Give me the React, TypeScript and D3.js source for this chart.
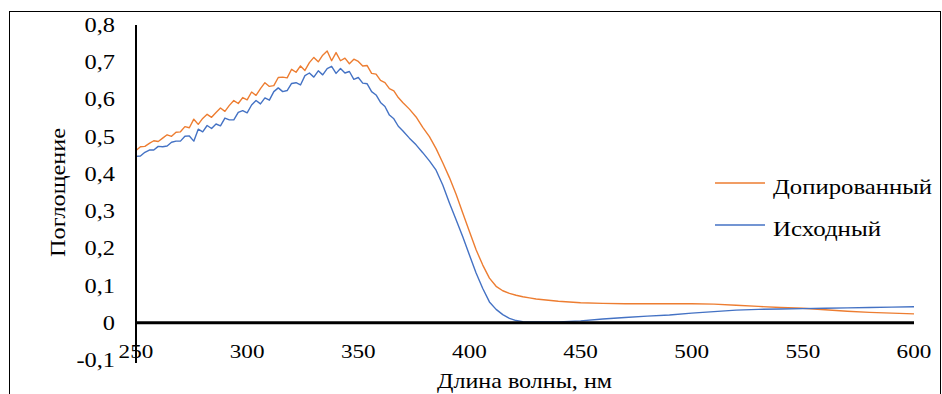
import { useEffect, useRef } from 'react';
import * as d3 from 'd3';

const wavelengths = [
  250, 252, 254, 256, 258, 260, 262, 264, 266, 268, 270, 272, 274, 276, 278, 280, 282, 284, 286, 288,
  290, 292, 294, 296, 298, 300, 302, 304, 306, 308, 310, 312, 314, 316, 318, 320, 322, 324, 326, 328,
  330, 332, 334, 336, 338, 340, 342, 344, 346, 348, 350, 352, 354, 356, 358, 360, 362, 364, 366, 368,
  370, 373, 376, 379, 382, 385, 388, 391, 394, 397, 400, 403, 406, 409, 412, 415, 418, 421, 424, 427,
  430, 440, 450, 460, 470, 480, 490, 500, 510, 520, 530, 540, 550, 560, 570, 580, 590, 600,
];

const doped = [
  0.463, 0.473, 0.474, 0.482, 0.489, 0.487, 0.496, 0.505, 0.501, 0.512, 0.513, 0.527, 0.524, 0.547, 0.533, 0.549, 0.560, 0.552, 0.565, 0.577,
  0.568, 0.584, 0.597, 0.589, 0.605, 0.599, 0.620, 0.611, 0.629, 0.645, 0.635, 0.637, 0.659, 0.660, 0.658, 0.681, 0.673, 0.690, 0.678, 0.699,
  0.713, 0.701, 0.719, 0.730, 0.704, 0.726, 0.704, 0.711, 0.696, 0.708, 0.702, 0.690, 0.691, 0.670, 0.668, 0.651, 0.645, 0.629, 0.623, 0.605,
  0.592, 0.574, 0.553, 0.525, 0.500, 0.468, 0.430, 0.390, 0.345, 0.295, 0.245, 0.196, 0.155, 0.120, 0.098, 0.086, 0.079, 0.074, 0.070, 0.067,
  0.064, 0.058, 0.054, 0.052, 0.051, 0.051, 0.051, 0.051, 0.050, 0.047, 0.044, 0.041, 0.039, 0.035, 0.031, 0.028, 0.026, 0.024,
];

const original = [
  0.447, 0.448, 0.458, 0.464, 0.464, 0.474, 0.473, 0.475, 0.485, 0.488, 0.488, 0.501, 0.502, 0.488, 0.520, 0.513, 0.530, 0.522, 0.534, 0.529,
  0.550, 0.545, 0.545, 0.565, 0.570, 0.564, 0.585, 0.597, 0.588, 0.604, 0.598, 0.621, 0.631, 0.621, 0.624, 0.643, 0.645, 0.639, 0.664, 0.671,
  0.660, 0.677, 0.666, 0.683, 0.689, 0.670, 0.683, 0.671, 0.675, 0.654, 0.659, 0.644, 0.642, 0.621, 0.612, 0.592, 0.581, 0.558, 0.548, 0.528,
  0.516, 0.496, 0.478, 0.457, 0.435, 0.410, 0.370, 0.322, 0.277, 0.231, 0.182, 0.134, 0.092, 0.056, 0.036, 0.022, 0.012, 0.006, 0.003, 0.002,
  0.002, 0.002, 0.005, 0.010, 0.014, 0.018, 0.021, 0.026, 0.030, 0.034, 0.036, 0.037, 0.038, 0.039, 0.040, 0.041, 0.042, 0.043,
];

const xTicks = [250, 300, 350, 400, 450, 500, 550, 600];
const yTicks = [-0.1, 0, 0.1, 0.2, 0.3, 0.4, 0.5, 0.6, 0.7, 0.8];

const seriesNames = ['Допированный', 'Исходный'];
const seriesColors = ['#ED7D31', '#4472C4'];
const legendWidths = [159, 108];

const FONT = '"Liberation Serif", "Times New Roman", serif';
const STRETCH = 1.22; // the picture's text is wider than Liberation Serif

const fmtY = (d: number) => (d === 0 ? '0' : d3.format('.1f')(d).replace('.', ',').replace('−', '-'));

const App = () => {
  const ref = useRef<SVGSVGElement>(null);

  useEffect(() => {
    const svg = d3.select(ref.current);
    svg.selectAll('*').remove();

    const x = d3.scaleLinear().domain([250, 600]).range([136, 914]);
    const y = d3.scaleLinear().domain([-0.1, 0.8]).range([360, 25]);

    // outer frame
    svg.append('rect')
      .attr('x', 9.5).attr('y', 11.5)
      .attr('width', 931).attr('height', 420)
      .attr('fill', 'none').attr('stroke', '#000').attr('stroke-width', 1);

    const line = d3.line<number>()
      .x((_, i) => x(wavelengths[i]))
      .y(d => y(d));

    [doped, original].forEach((values, i) => {
      svg.append('path')
        .datum(values)
        .attr('d', line)
        .attr('fill', 'none')
        .attr('stroke', seriesColors[i])
        .attr('stroke-width', 1.4)
        .attr('stroke-linejoin', 'round');
    });

    // axes
    svg.append('line')
      .attr('x1', x(250)).attr('x2', x(250))
      .attr('y1', y(0.8)).attr('y2', y(-0.1) + 3)
      .attr('stroke', '#000').attr('stroke-width', 2);

    svg.append('line')
      .attr('x1', x(250)).attr('x2', x(600))
      .attr('y1', y(0)).attr('y2', y(0))
      .attr('stroke', '#000').attr('stroke-width', 3);

    svg.append('g')
      .selectAll('text')
      .data(yTicks)
      .enter().append('text')
      .attr('transform', d => `translate(115,${y(d) + 7}) scale(${STRETCH},1)`)
      .attr('text-anchor', 'end')
      .attr('font-family', FONT)
      .attr('font-size', 20)
      .text(fmtY);

    svg.append('g')
      .selectAll('text')
      .data(xTicks)
      .enter().append('text')
      .attr('transform', d => `translate(${x(d)},358) scale(${STRETCH},1)`)
      .attr('text-anchor', 'middle')
      .attr('font-family', FONT)
      .attr('font-size', 19)
      .text(d => d);

    svg.append('text')
      .attr('x', 437).attr('y', 388)
      .attr('font-family', FONT)
      .attr('font-size', 21)
      .attr('textLength', 175)
      .attr('lengthAdjust', 'spacingAndGlyphs')
      .text('Длина волны, нм');

    svg.append('text')
      .attr('transform', 'translate(65,257) rotate(-90)')
      .attr('font-family', FONT)
      .attr('font-size', 22)
      .attr('textLength', 129)
      .attr('lengthAdjust', 'spacingAndGlyphs')
      .text('Поглощение');

    // legend
    const legend = svg.append('g');
    seriesNames.forEach((name, i) => {
      const ly = 183 + i * 42;
      legend.append('line')
        .attr('x1', 715).attr('x2', 765)
        .attr('y1', ly).attr('y2', ly)
        .attr('stroke', seriesColors[i]).attr('stroke-width', 1.5);
      legend.append('text')
        .attr('x', 773).attr('y', ly + 11)
        .attr('font-family', FONT)
        .attr('font-size', 21)
        .attr('textLength', legendWidths[i])
        .attr('lengthAdjust', 'spacingAndGlyphs')
        .text(name);
    });
  }, []);

  return (
    <svg
      ref={ref}
      width={942}
      height={394}
      style={{ position: 'absolute', left: 0, top: 0, background: '#fff' }}
    />
  );
};

export default App;
